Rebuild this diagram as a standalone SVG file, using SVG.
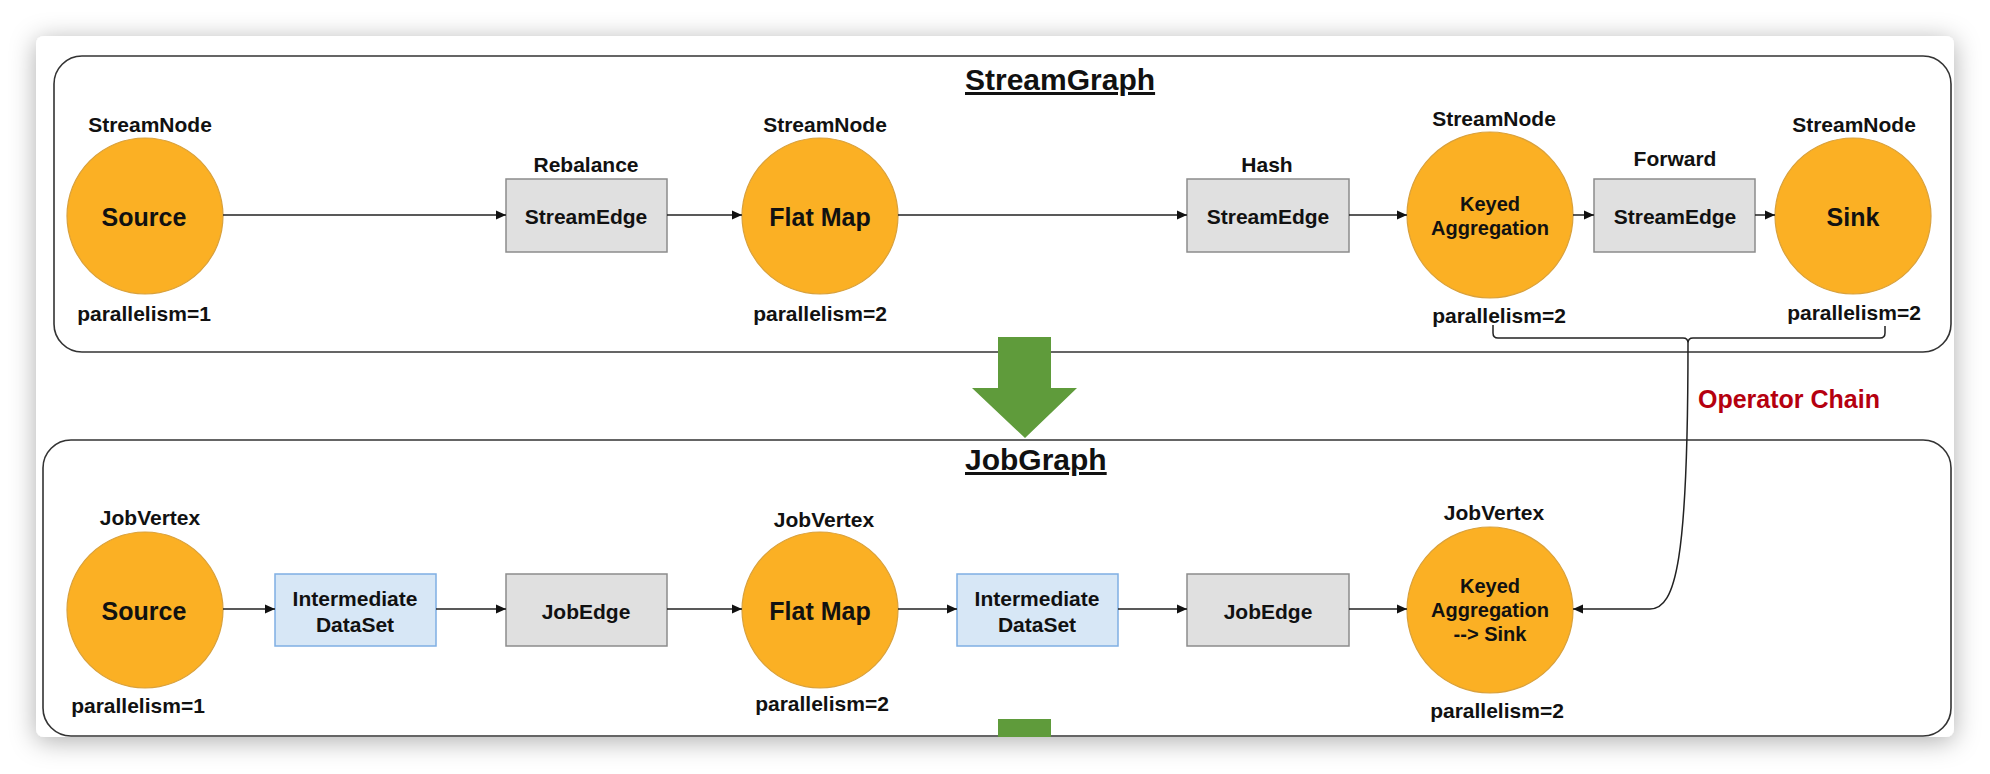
<svg xmlns="http://www.w3.org/2000/svg" width="1990" height="774" viewBox="0 0 1990 774">
  <defs>
    <filter id="shadow" x="-5%" y="-10%" width="110%" height="120%">
      <feDropShadow dx="0" dy="4" stdDeviation="13" flood-color="#000" flood-opacity="0.32"/>
    </filter>
    <marker id="arr" viewBox="0 0 10 10" markerWidth="10" markerHeight="10" refX="10" refY="5" orient="auto" markerUnits="userSpaceOnUse">
      <path d="M0,0.5 L10,5 L0,9.5 z" fill="#111"/>
    </marker>
  </defs>
  <style>
    text { font-family: "Liberation Sans", Arial, Helvetica, sans-serif; font-weight: bold; fill: #111; text-anchor: middle; }
    .lbl { font-size: 21px; }
    .big { font-size: 25px; }
    .mid { font-size: 20px; }
    .title { font-size: 30px; text-anchor: start; text-decoration: underline; }
    .chain { font-size: 25px; fill: #b5000f; text-anchor: start; }
    .op { fill: #fbb024; stroke: #d9a13c; stroke-width: 1.2; }
    .edge { fill: #e0e0e0; stroke: #8c8c8c; stroke-width: 1.5; }
    .ds { fill: #d7e7f6; stroke: #7fafe3; stroke-width: 1.5; }
    .box { fill: none; stroke: #333; stroke-width: 1.6; }
    .conn { fill: none; stroke: #222; stroke-width: 1.5; }
    .green { fill: #5f9b3b; }
  </style>

  <rect x="0" y="0" width="1990" height="774" fill="#ffffff"/>
  <rect x="36" y="36" width="1918" height="701" rx="8" fill="#ffffff" filter="url(#shadow)"/>

  <g id="streamgraph">
    <rect class="box" x="54" y="56" width="1897" height="296" rx="28"/>
    <text class="title" x="965" y="90">StreamGraph</text>
  </g>
  <g id="jobgraph">
    <rect class="box" x="43" y="440" width="1908" height="296" rx="28"/>
    <text class="title" x="965" y="470">JobGraph</text>
  </g>

  <g id="transform-arrow">
    <polygon class="green" points="998,337 1051,337 1051,388 1077,388 1025,438 972,388 998,388"/>
    <rect class="green" x="998" y="719" width="53" height="18"/>
  </g>

  <g id="s-source">
    <text class="lbl" x="150" y="132">StreamNode</text>
    <circle class="op" cx="145" cy="216" r="78"/>
    <text class="big" x="144" y="226">Source</text>
    <text class="lbl" x="144" y="321">parallelism=1</text>
  </g>
  <g id="s-rebalance">
    <text class="lbl" x="586" y="172">Rebalance</text>
    <rect class="edge" x="506" y="179" width="161" height="73"/>
    <text class="lbl" x="586" y="224">StreamEdge</text>
  </g>
  <g id="s-flatmap">
    <text class="lbl" x="825" y="132">StreamNode</text>
    <circle class="op" cx="820" cy="216" r="78"/>
    <text class="big" x="820" y="226">Flat Map</text>
    <text class="lbl" x="820" y="321">parallelism=2</text>
  </g>
  <g id="s-hash">
    <text class="lbl" x="1267" y="172">Hash</text>
    <rect class="edge" x="1187" y="179" width="162" height="73"/>
    <text class="lbl" x="1268" y="224">StreamEdge</text>
  </g>
  <g id="s-keyed">
    <text class="lbl" x="1494" y="126">StreamNode</text>
    <circle class="op" cx="1490" cy="215" r="83"/>
    <text class="mid" x="1490" y="211">Keyed</text>
    <text class="mid" x="1490" y="235">Aggregation</text>
    <text class="lbl" x="1499" y="323">parallelism=2</text>
  </g>
  <g id="s-forward">
    <text class="lbl" x="1675" y="166">Forward</text>
    <rect class="edge" x="1594" y="179" width="161" height="73"/>
    <text class="lbl" x="1675" y="224">StreamEdge</text>
  </g>
  <g id="s-sink">
    <text class="lbl" x="1854" y="132">StreamNode</text>
    <circle class="op" cx="1853" cy="216" r="78"/>
    <text class="big" x="1853" y="226">Sink</text>
    <text class="lbl" x="1854" y="320">parallelism=2</text>
  </g>

  <g id="j-source">
    <text class="lbl" x="150" y="525">JobVertex</text>
    <circle class="op" cx="145" cy="610" r="78"/>
    <text class="big" x="144" y="620">Source</text>
    <text class="lbl" x="138" y="713">parallelism=1</text>
  </g>
  <g id="j-dataset1">
    <rect class="ds" x="275" y="574" width="161" height="72"/>
    <text class="lbl" x="355" y="606">Intermediate</text>
    <text class="lbl" x="355" y="632">DataSet</text>
  </g>
  <g id="j-jobedge1">
    <rect class="edge" x="506" y="574" width="161" height="72"/>
    <text class="lbl" x="586" y="619">JobEdge</text>
  </g>
  <g id="j-flatmap">
    <text class="lbl" x="824" y="527">JobVertex</text>
    <circle class="op" cx="820" cy="610" r="78"/>
    <text class="big" x="820" y="620">Flat Map</text>
    <text class="lbl" x="822" y="711">parallelism=2</text>
  </g>
  <g id="j-dataset2">
    <rect class="ds" x="957" y="574" width="161" height="72"/>
    <text class="lbl" x="1037" y="606">Intermediate</text>
    <text class="lbl" x="1037" y="632">DataSet</text>
  </g>
  <g id="j-jobedge2">
    <rect class="edge" x="1187" y="574" width="162" height="72"/>
    <text class="lbl" x="1268" y="619">JobEdge</text>
  </g>
  <g id="j-keyed">
    <text class="lbl" x="1494" y="520">JobVertex</text>
    <circle class="op" cx="1490" cy="610" r="83"/>
    <text class="mid" x="1490" y="593">Keyed</text>
    <text class="mid" x="1490" y="617">Aggregation</text>
    <text class="mid" x="1490" y="641">--&gt; Sink</text>
    <text class="lbl" x="1497" y="718">parallelism=2</text>
  </g>

  <g id="operator-chain">
    <text class="chain" x="1698" y="408">Operator Chain</text>
  </g>

  <g id="connectors">
    <line class="conn" x1="223" y1="215" x2="506" y2="215" marker-end="url(#arr)"/>
    <line class="conn" x1="667" y1="215" x2="742" y2="215" marker-end="url(#arr)"/>
    <line class="conn" x1="898" y1="215" x2="1187" y2="215" marker-end="url(#arr)"/>
    <line class="conn" x1="1349" y1="215" x2="1407" y2="215" marker-end="url(#arr)"/>
    <line class="conn" x1="1573" y1="215" x2="1594" y2="215" marker-end="url(#arr)"/>
    <line class="conn" x1="1755" y1="215" x2="1775" y2="215" marker-end="url(#arr)"/>

    <line class="conn" x1="223" y1="609" x2="275" y2="609" marker-end="url(#arr)"/>
    <line class="conn" x1="436" y1="609" x2="506" y2="609" marker-end="url(#arr)"/>
    <line class="conn" x1="667" y1="609" x2="742" y2="609" marker-end="url(#arr)"/>
    <line class="conn" x1="898" y1="609" x2="957" y2="609" marker-end="url(#arr)"/>
    <line class="conn" x1="1118" y1="609" x2="1187" y2="609" marker-end="url(#arr)"/>
    <line class="conn" x1="1349" y1="609" x2="1407" y2="609" marker-end="url(#arr)"/>

    <path class="conn" d="M1493,325 L1493,333 Q1493,338 1498,338 L1683,338 Q1688,338 1688,343 Q1688,338 1693,338 L1880,338 Q1885,338 1885,333 L1885,326"/>
    <path class="conn" d="M1688,343 C1688,560 1676,609 1650,609 L1573,609" marker-end="url(#arr)"/>
  </g>
</svg>
